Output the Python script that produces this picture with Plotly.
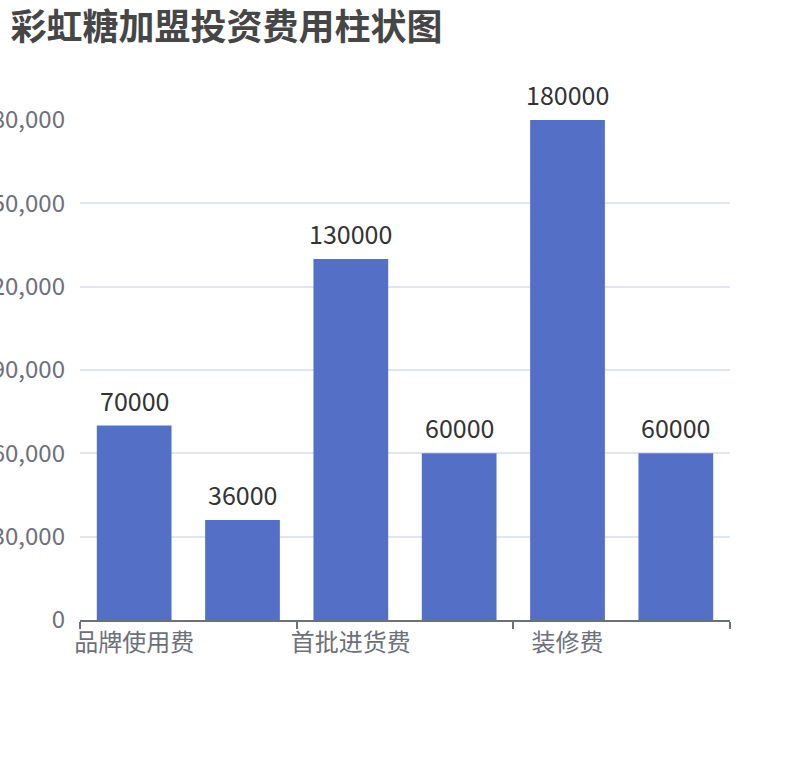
import plotly.graph_objects as go

# 数据
categories = ["品牌使用费", "加盟保证金", "首批进货费", "设备费用", "装修费", "流动资金"]
costs = [70000, 36000, 130000, 60000, 180000, 60000]
y_ticks = [0, 30000, 60000, 90000, 120000, 150000, 180000]

fig = go.Figure(
    go.Bar(
        x=categories,
        y=costs,
        marker=dict(color="#5470c6", line=dict(width=0)),
        hovertemplate="%{x}: %{y}<extra></extra>",
    )
)

# 柱顶数值标签
for cat, val in zip(categories, costs):
    fig.add_annotation(
        x=cat, y=val, text=str(val),
        showarrow=False, yanchor="bottom", yshift=6,
        font=dict(size=25, color="#333333"),
    )

fig.update_layout(
    width=810,
    height=760,
    title=dict(
        text="<b>彩虹糖加盟投资费用柱状图</b>",
        x=0.013, xanchor="left",
        y=0.964, yanchor="middle",
        font=dict(size=36, color="#464646"),
    ),
    font=dict(family="Noto Sans CJK SC"),
    plot_bgcolor="white",
    paper_bgcolor="white",
    bargap=0.31,
    margin=dict(l=80, r=80, t=120, b=140),
    showlegend=False,
)

fig.update_xaxes(
    type="category",
    tickmode="linear", tick0=0, dtick=2,
    tickson="boundaries",
    tickangle=0,
    ticks="outside", ticklen=7, tickwidth=1.5, tickcolor="#6E7079",
    showline=True, linecolor="#6E7079", linewidth=1.5,
    showgrid=False,
    tickfont=dict(size=24, color="#6E7079"),
    automargin=False,
)

fig.update_yaxes(
    range=[0, 180000],
    tickvals=y_ticks,
    tickformat=",",
    showgrid=True, gridcolor="#E0E6F1", gridwidth=1.5,
    zeroline=False,
    showline=False,
    ticks="",
    ticklabelstandoff=14,
    tickfont=dict(size=24, color="#6E7079"),
    automargin=False,
)

# 去掉页面默认边距，让图从窗口左上角开始
fig.write_html(
    "out.html",
    config={"displayModeBar": False},
    post_script="document.body.style.margin='0';document.body.style.overflow='hidden';",
)
